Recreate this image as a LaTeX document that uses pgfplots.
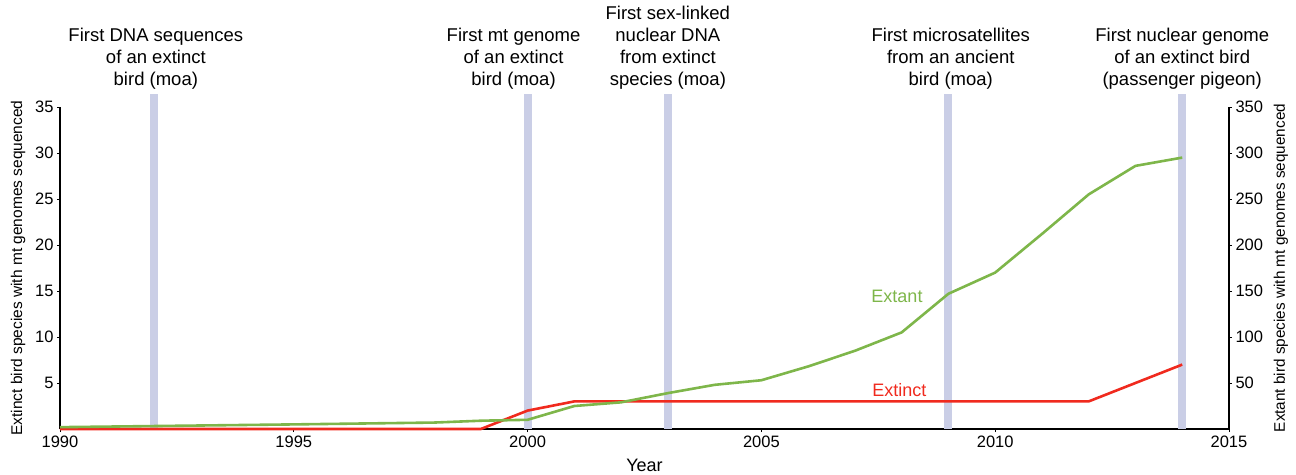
\documentclass[border=0pt]{standalone}
\usepackage{fontspec}
\setmainfont{Liberation Sans}
\usepackage{pgfplots}
\pgfplotsset{compat=1.18}
\definecolor{extant}{RGB}{126,182,74}
\definecolor{extinct}{RGB}{240,42,30}
\definecolor{band}{RGB}{202,206,230}
\begin{document}
\begin{tikzpicture}
\pgfplotsset{
  common/.style={
    scale only axis, width=1169pt, height=322pt,
    xmin=1990, xmax=2015,
    axis line style={line width=1.3pt},
    tick align=outside, major tick length=3pt,
    tick style={black, line width=0.8pt},
    /pgf/number format/assume math mode=true,
    /pgf/number format/1000 sep={},
    xticklabel style={font=\fontsize{16.5}{18}\selectfont},
    yticklabel style={font=\fontsize{16.5}{18}\selectfont},
  }
}
\begin{axis}[common,
  ymin=0, ymax=35,
  axis x line*=bottom, axis y line*=left,
  xtick={1990,1995,...,2015}, ytick={5,10,...,35},
  xlabel={Year}, ylabel={Extinct bird species with mt genomes sequenced},
  xlabel style={font=\fontsize{18}{20}\selectfont, at={(axis description cs:0.5,0)}, anchor=center, yshift=-36pt},
  ylabel style={font=\fontsize{15.5}{18}\selectfont, at={(axis description cs:0,0.5)}, anchor=center, yshift=42pt},
  clip=false,
]
\addplot[ycomb, band, line width=8pt, forget plot] coordinates {(1992,36.4) (2000,36.4) (2003,36.4) (2009,36.4) (2014,36.4)};
\addplot[extinct, line width=2.6pt] coordinates {(1990,0) (1999,0) (2000,2) (2001,3) (2012,3) (2013,5) (2014,7)};
\node[extinct, font=\fontsize{18}{21}\selectfont] at (axis cs:2007.95,4.25) {Extinct};
\node[extant, font=\fontsize{18}{21}\selectfont] at (axis cs:2007.9,14.4) {Extant};
\tikzset{ann/.style={anchor=south, align=center, inner sep=0pt, font=\fontsize{18.5}{22}\selectfont}}
\node[ann] at (axis cs:1992.05,36.9) {First DNA sequences\\of an extinct\\bird (moa)};
\node[ann] at (axis cs:1999.70,36.9) {First mt genome\\of an extinct\\bird (moa)};
\node[ann] at (axis cs:2003.0,36.9) {First sex-linked\\nuclear DNA\\from extinct\\species (moa)};
\node[ann] at (axis cs:2009.05,36.9) {First microsatellites\\from an ancient\\bird (moa)};
\node[ann] at (axis cs:2014.0,36.9) {First nuclear genome\\of an extinct bird\\(passenger pigeon)};
\end{axis}
\begin{axis}[common,
  ymin=0, ymax=350,
  axis x line=none, axis y line*=right,
  ytick={50,100,...,350},
  ylabel={Extant bird species with mt genomes sequenced},
  ylabel style={font=\fontsize{15.3}{18}\selectfont, at={(axis description cs:1,0.5)}, anchor=center, yshift=-52pt},
  clip=false,
]
\addplot[extant, line width=2.6pt] coordinates {(1990,2) (1995,5) (1998,7) (1999,9) (2000,10) (2001,25) (2002,29) (2003,39) (2004,48) (2005,53) (2006,68) (2007,85) (2008,105) (2009,147) (2010,170) (2011,212) (2012,255) (2013,286) (2014,295)};
\end{axis}
\pgfresetboundingbox
\path (-60pt,-45pt) rectangle (1236pt,429pt);
\end{tikzpicture}
\end{document}
